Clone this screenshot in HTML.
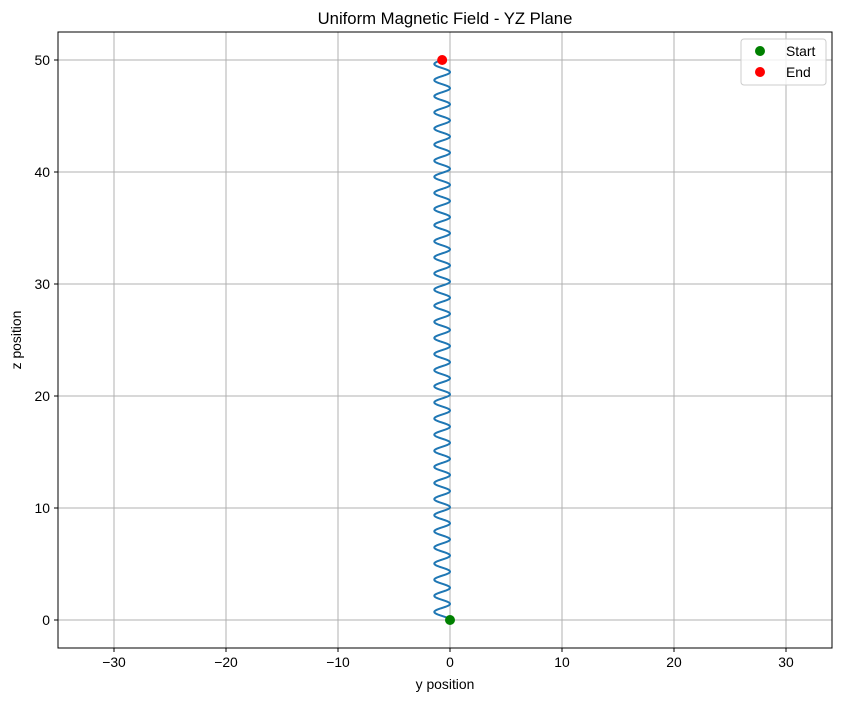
<!DOCTYPE html>
<html><head><meta charset="utf-8"><style>
body{margin:0;background:#fff}
svg text{font-family:"Liberation Sans","DejaVu Sans",sans-serif;fill:#000}
</style></head><body>
<svg id="chart" width="841" height="701" viewBox="0 0 841 701">
<rect width="841" height="701" fill="#fff"/>
<g id="grid"></g>
<g id="ticks"></g>
<path id="helix" fill="none" stroke="#1f77b4" stroke-width="2"/>
<g id="markers"></g>
<rect x="58" y="32" width="774" height="616" fill="none" stroke="#000" stroke-width="1"/>
<text x="445" y="24" font-size="16.7" text-anchor="middle">Uniform Magnetic Field - YZ Plane</text>
<text x="445" y="689" font-size="13.9" text-anchor="middle">y position</text>
<text x="21" y="340" font-size="13.9" text-anchor="middle" transform="rotate(-90 21 340)">z position</text>
<g>
<rect x="741" y="39" width="85" height="46" rx="3" fill="#fff" fill-opacity="0.8" stroke="#ccc"/>
<circle cx="760" cy="51" r="5" fill="green"/>
<text x="786" y="56" font-size="13.9">Start</text>
<circle cx="760" cy="72" r="5" fill="red"/>
<text x="786" y="77" font-size="13.9">End</text>
</g>
</svg>
<script>
const xTicks=[-30,-20,-10,0,10,20,30];
const yTicks=[0,10,20,30,40,50];
const helixRadius=[0.7];
const helixTurns=[34.75];
const zRange=[0,50];
const startPoint=[0,0];
const endPoint=[-0.7,50];
const NS="http://www.w3.org/2000/svg";
const L=58,R=832,T=32,B=648;
const xs=v=>450+v*11.2;
const ys=v=>620-v*11.2;
function mk(tag,attrs,parent){const e=document.createElementNS(NS,tag);for(const k in attrs)e.setAttribute(k,attrs[k]);document.getElementById(parent).appendChild(e);return e;}
xTicks.forEach(t=>{
 const g=mk('line',{x1:xs(t),x2:xs(t),y1:T,y2:B,stroke:'#b0b0b0','stroke-width':1},'grid');
 
 
 const k=mk('line',{x1:xs(t),x2:xs(t),y1:B,y2:B+4,stroke:'#000'},'ticks');
 
 
 const tx=mk('text',{x:xs(t),y:B+19,'font-size':13.9,'text-anchor':'middle'},'ticks');
 tx.textContent=(t<0?'\u2212'+(-t):t);
 
 
});
yTicks.forEach(t=>{
 const g=mk('line',{x1:L,x2:R,y1:ys(t),y2:ys(t),stroke:'#b0b0b0','stroke-width':1},'grid');
 
 
 const k=mk('line',{x1:L-4,x2:L,y1:ys(t),y2:ys(t),stroke:'#000'},'ticks');
 
 
 const tx=mk('text',{x:L-8,y:ys(t)+5,'font-size':13.9,'text-anchor':'end'},'ticks');
 tx.textContent=t;
 
 
});
const r=helixRadius[0],turns=helixTurns[0],N=3000;
let d='';
for(let i=0;i<=N;i++){
 const f=i/N,th=2*Math.PI*turns*f;
 const y=-r+r*Math.cos(th), z=zRange[0]+(zRange[1]-zRange[0])*f;
 d+=(i?'L':'M')+xs(y).toFixed(2)+' '+ys(z).toFixed(2);
}
document.getElementById('helix').setAttribute('d',d);
const s=mk('circle',{cx:xs(startPoint[0]),cy:ys(startPoint[1]),r:5,fill:'green'},'markers');


const e=mk('circle',{cx:xs(endPoint[0]),cy:ys(endPoint[1]),r:5,fill:'red'},'markers');


</script>
</body></html>
